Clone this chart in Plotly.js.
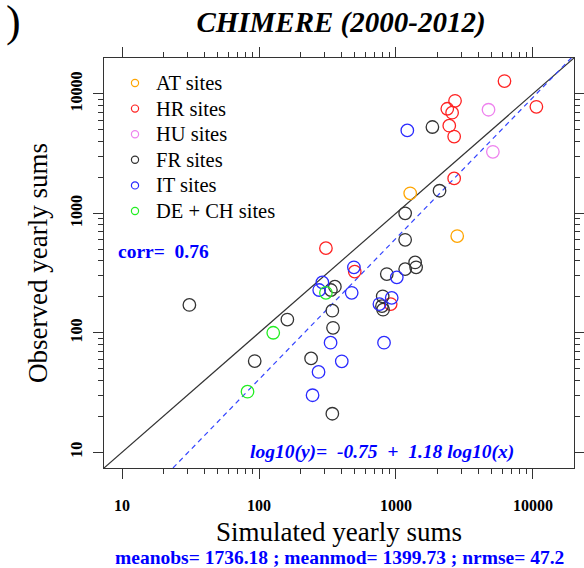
<!DOCTYPE html>
<html>
<head>
<meta charset="utf-8">
<script src="https://cdn.plot.ly/plotly-3.0.1.min.js"></script>
<style>html,body{margin:0;padding:0;background:#fff;}</style>
</head>
<body>
<div id="chart" style="width:584px;height:568px;"></div>
<script>
// ---- data (simulated = x, observed = y) ----
const groups = ["AT sites", "HR sites", "HU sites", "FR sites", "IT sites", "DE + CH sites"];
const colors = ["orange", "#ff2222", "violet", "#333333", "#2a2aff", "#22ee22"];

const atX = [1270, 2800];
const atY = [1470, 645];

const hrX = [6200, 2370, 2700, 2570, 2450, 2660, 10600, 2660, 308, 500, 915];
const hrY = [12800, 7500, 8740, 6950, 5410, 4390, 7790, 1960, 511, 325, 174];

const huX = [4740, 5100];
const huY = [7360, 3270];

const frX = [1845, 31, 161, 93, 240, 343, 343, 347, 358, 335, 1167, 1167, 2080, 857, 1167, 1380, 1403, 800, 790, 805];
const frY = [5275, 171, 129, 58, 61, 21, 153, 110, 243, 228, 1000, 600, 1545, 310, 341, 388, 353, 202, 167, 156];

const itX = [1210, 290, 275, 493, 475, 1014, 931, 757, 818, 333, 402, 272, 246];
const itY = [4945, 264, 228, 353, 216, 291, 196, 174, 82.6, 82.6, 57.7, 47, 30];

const deX = [127, 82.4, 308];
const deY = [100, 32.1, 216];

const fitIntercept = -0.75;
const fitSlope = 1.18;
const corrText = "corr=  0.76";
const fitText = "log10(y)=  -0.75  +  1.18 log10(x)";
const statsText = "meanobs= 1736.18 ; meanmod= 1399.73 ; nrmse= 47.2";

const axisRange = [0.868, 4.30];
const majorTicks = [10, 100, 1000, 10000];
const tickLabels = ["10", "100", "1000", "10000"];

// ---- build ----
const seriesX = [atX, hrX, huX, frX, itX, deX];
const seriesY = [atY, hrY, huY, frY, itY, deY];

const minorTicks = [];
for (let d = 10; d < 10000; d *= 10) for (let k = 2; k <= 9; k++) minorTicks.push(k * d);

const xs = [Math.pow(10, axisRange[0]), Math.pow(10, axisRange[1])];
const traces = [];

// 1:1 line
traces.push({x: xs, y: xs, mode: "lines", line: {color: "#333", width: 1.2}, showlegend: false, hoverinfo: "skip"});
// regression line
traces.push({x: xs, y: xs.map(v => Math.pow(10, fitIntercept + fitSlope * Math.log10(v))),
  mode: "lines", line: {color: "#3344ff", width: 1.2, dash: "5px,4px"}, showlegend: false, hoverinfo: "skip"});

groups.forEach((g, i) => {
  traces.push({x: seriesX[i], y: seriesY[i], mode: "markers", name: g, showlegend: false,
    marker: {symbol: "circle-open", size: 12.5, color: colors[i], line: {width: 1.3, color: colors[i]}}});
});

const serif = "Liberation Serif, Times New Roman, serif";
const axisCommon = {
  type: "log", range: axisRange, tickmode: "array", tickvals: majorTicks, ticktext: tickLabels,
  ticks: "outside", ticklen: 10, tickwidth: 1, tickcolor: "#333",
  showline: true, linecolor: "#333", linewidth: 1, mirror: "ticks",
  showgrid: false, zeroline: false,
  minor: {tickmode: "array", tickvals: minorTicks, ticks: "outside", ticklen: 5, tickwidth: 1, tickcolor: "#333", showgrid: false},
  tickfont: {family: serif, size: 16, weight: "bold", color: "#000"}
};

const PL = 104, PR = 574, PT = 58, PB = 468;
const px = v => (v - PL) / (PR - PL);
const py = v => (PB - v) / (PB - PT);

// legend (drawn as shapes + texts inside the plot)
const legX = 135, legTextX = 154, legY0 = 83, legDY = 25.6;
const shapes = [], annotations = [];
groups.forEach((g, i) => {
  const yy = py(legY0 + i * legDY);
  shapes.push({type: "circle", xref: "paper", yref: "paper", xsizemode: "pixel", ysizemode: "pixel",
    xanchor: px(legX), yanchor: yy, x0: -3.6, x1: 3.6, y0: -3.6, y1: 3.6,
    line: {color: colors[i], width: 1.2}, fillcolor: "rgba(0,0,0,0)"});
  annotations.push({text: g, xref: "paper", yref: "paper", x: px(legTextX), y: yy, xanchor: "left", yanchor: "middle",
    showarrow: false, font: {family: serif, size: 20.5, color: "#000"}});
});

annotations.push(
  {text: corrText, xref: "paper", yref: "paper", x: px(116), y: py(251), xanchor: "left", yanchor: "middle",
    showarrow: false, font: {family: serif, size: 19.5, weight: "bold", color: "blue"}},
  {text: "<i>" + fitText + "</i>", xref: "paper", yref: "paper", x: px(248), y: py(452),
    xanchor: "left", yanchor: "middle", showarrow: false, font: {family: serif, size: 19.5, weight: "bold", color: "blue"}},
  {text: statsText, xref: "paper", yref: "paper", x: px(339), y: py(557), xanchor: "center", yanchor: "middle",
    showarrow: false, font: {family: serif, size: 19.5, weight: "bold", color: "blue"}},
  {text: ")", xref: "paper", yref: "paper", x: px(13), y: py(22), xanchor: "center", yanchor: "middle",
    showarrow: false, font: {family: serif, size: 44, color: "#000"}}
);

const layout = {
  width: 584, height: 568,
  margin: {l: PL, r: 584 - PR, t: PT, b: 568 - PB, pad: 0},
  paper_bgcolor: "#fff", plot_bgcolor: "#fff",
  showlegend: false,
  title: {text: "<b><i>CHIMERE (2000-2012)</i></b>", font: {family: serif, size: 29, color: "#000"},
    xref: "paper", x: px(341), xanchor: "center", yref: "container", y: 1 - 22 / 568, yanchor: "middle"},
  xaxis: Object.assign({}, axisCommon, {
    ticklabelstandoff: 13,
    title: {text: "Simulated yearly sums", font: {family: serif, size: 27, color: "#000"}, standoff: 8}
  }),
  yaxis: Object.assign({}, axisCommon, {
    tickangle: -90, ticklabelstandoff: 5,
    title: {text: "Observed yearly sums", font: {family: serif, size: 27, color: "#000"}, standoff: 12}
  }),
  shapes: shapes,
  annotations: annotations
};

Plotly.newPlot("chart", traces, layout, {displayModeBar: false, staticPlot: true});
</script>
</body>
</html>
